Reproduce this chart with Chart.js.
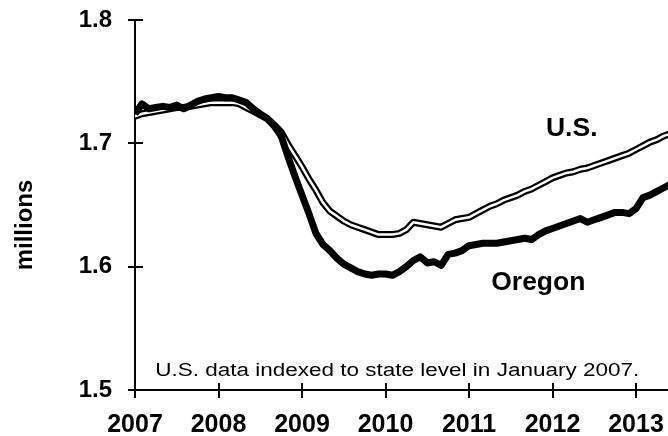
<!DOCTYPE html>
<html>
<head>
<meta charset="utf-8">
<script src="https://cdn.jsdelivr.net/npm/chart.js@4.4.0/dist/chart.umd.min.js"></script>
<style>
  html, body { margin: 0; padding: 0; background: #fff; }
  #wrap { width: 668px; height: 436px; }
</style>
</head>
<body>
<div id="wrap"><canvas id="myChart"></canvas></div>
<script>
// monthly, Jan 2007 .. Jun 2013 (millions of jobs)
const startYear = 2007
const oregon = [
    1.724, 1.732, 1.728, 1.729, 1.730, 1.729, 1.731, 1.728, 1.731, 1.734, 1.736, 1.737,
    1.738, 1.737, 1.737, 1.735, 1.733, 1.728, 1.724, 1.720, 1.714, 1.706, 1.689, 1.673,
    1.658, 1.643, 1.627, 1.618, 1.613, 1.607, 1.602, 1.599, 1.596, 1.594, 1.593, 1.594,
    1.594, 1.593, 1.596, 1.600, 1.605, 1.608, 1.603, 1.604, 1.601, 1.610, 1.611, 1.613,
    1.617, 1.618, 1.619, 1.619, 1.619, 1.620, 1.621, 1.622, 1.623, 1.622, 1.626, 1.629,
    1.631, 1.633, 1.635, 1.637, 1.639, 1.636, 1.638, 1.640, 1.642, 1.644, 1.644, 1.643,
    1.647, 1.656, 1.658, 1.661, 1.664, 1.667
]
const us = [
    1.722, 1.724, 1.725, 1.726, 1.727, 1.728, 1.729, 1.729, 1.730, 1.731, 1.732, 1.733,
    1.733, 1.733, 1.733, 1.732, 1.729, 1.726, 1.723, 1.720, 1.715, 1.709, 1.699, 1.690,
    1.681, 1.671, 1.662, 1.652, 1.645, 1.641, 1.637, 1.634, 1.632, 1.630, 1.628, 1.626,
    1.626, 1.626, 1.627, 1.630, 1.636, 1.635, 1.634, 1.633, 1.632, 1.635, 1.638, 1.639,
    1.640, 1.643, 1.646, 1.649, 1.651, 1.654, 1.656, 1.658, 1.661, 1.663, 1.666, 1.669,
    1.672, 1.674, 1.676, 1.677, 1.679, 1.680, 1.682, 1.684, 1.686, 1.688, 1.690, 1.692,
    1.695, 1.698, 1.701, 1.703, 1.706, 1.708
]
const xTicks = [2007, 2008, 2009, 2010, 2011, 2012, 2013]
const yTicks = [1.5, 1.6, 1.7, 1.8]

const FONT = "'Liberation Sans', Arial, sans-serif"

const toPoints = arr => arr.map((v, i) => ({ x: startYear + i / 12, y: v }))

// draws text stretched a little wider, like the scanned original
function wideText(ctx, text, x, y, sx) {
    ctx.save()
    ctx.translate(x, y)
    ctx.scale(sx, 1)
    ctx.fillText(text, 0, 0)
    ctx.restore()
}

// tick marks cross the axis, draw the inside half + text labels
const extras = {
    id: "extras",
    afterDraw(chart) {
        const { ctx, scales: { x, y }, chartArea } = chart
        ctx.save()
        ctx.strokeStyle = "#000"
        ctx.lineWidth = 2
        ctx.beginPath()
        yTicks.forEach(v => {
            const py = Math.round(y.getPixelForValue(v))
            ctx.moveTo(chartArea.left, py)
            ctx.lineTo(chartArea.left + 8, py)
        })
        xTicks.forEach(v => {
            const px = Math.round(x.getPixelForValue(v))
            ctx.moveTo(px, chartArea.bottom)
            ctx.lineTo(px, chartArea.bottom - 7)
        })
        ctx.stroke()

        ctx.fillStyle = "#000"
        ctx.textAlign = "center"
        ctx.textBaseline = "middle"
        ctx.font = "bold 25px " + FONT
        wideText(ctx, "U.S.", x.getPixelForValue(2012.23), y.getPixelForValue(1.7116), 1.06)
        wideText(ctx, "Oregon", x.getPixelForValue(2011.83), y.getPixelForValue(1.587), 1.06)
        ctx.font = "18px " + FONT
        wideText(ctx, "U.S. data indexed to state level in January 2007.",
            x.getPixelForValue(2010.14), y.getPixelForValue(1.5153), 1.25)

        // axis title
        ctx.font = "bold 24px " + FONT
        ctx.translate(25, 225)
        ctx.rotate(-Math.PI / 2)
        ctx.fillText("millions", 0, 0)
        ctx.restore()
    }
}

const line = {
    pointRadius: 0,
    tension: 0,
    borderJoinStyle: "round",
}

const chart = new Chart(document.getElementById("myChart"), {
    type: "line",
    data: {
        // first dataset is painted last (on top)
        datasets: [
            { ...line, label: "Oregon", data: toPoints(oregon), borderColor: "#000", borderWidth: 7 },
            { ...line, label: "U.S.", data: toPoints(us), borderColor: "#fff", borderWidth: 2.5 },
            { ...line, label: "U.S. outline", data: toPoints(us), borderColor: "#000", borderWidth: 7 },
        ]
    },
    options: {
        responsive: true,
        maintainAspectRatio: false,
        animation: false,
        layout: { padding: { top: 20, right: 0, left: 0, bottom: 0 } },
        scales: {
            x: {
                type: "linear",
                min: 2007,
                max: 2013.383,
                afterBuildTicks(scale) {
                    scale.ticks = xTicks.map(v => ({ value: v }))
                },
                afterFit(scale) {
                    scale.height = 46
                    scale.paddingLeft = 0
                    scale.paddingRight = 0
                },
                border: { display: true, color: "#000", width: 2 },
                grid: { drawOnChartArea: false, drawTicks: true, tickLength: 8, color: "#000", lineWidth: 2 },
                ticks: {
                    color: "#000",
                    padding: 12,
                    maxRotation: 0,
                    font: { family: FONT, size: 25, weight: "bold" },
                    callback: v => String(v)
                }
            },
            y: {
                min: 1.5,
                max: 1.8,
                afterBuildTicks(scale) {
                    scale.ticks = yTicks.map(v => ({ value: v }))
                },
                afterFit(scale) {
                    scale.width = 135
                    scale.paddingTop = 0
                    scale.paddingBottom = 0
                },
                border: { display: true, color: "#000", width: 2 },
                grid: { drawOnChartArea: false, drawTicks: true, tickLength: 7, color: "#000", lineWidth: 2 },
                ticks: {
                    color: "#000",
                    padding: 16,
                    font: { family: FONT, size: 24, weight: "bold" },
                    callback: v => v.toFixed(1)
                }
            }
        },
        plugins: {
            legend: { display: false },
            tooltip: { enabled: false }
        }
    },
    plugins: [extras]
})
</script>
</body>
</html>
